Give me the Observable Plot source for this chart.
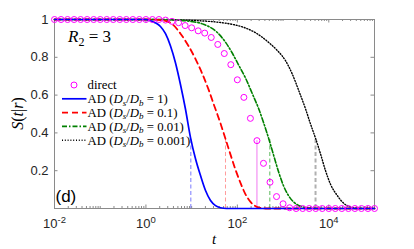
<!DOCTYPE html>
<html><head><meta charset="utf-8">
<script src="https://cdn.jsdelivr.net/npm/d3@7"></script>
<script src="https://cdn.jsdelivr.net/npm/@observablehq/plot@0.6"></script>
<style>html,body{margin:0;padding:0;background:#fff}</style>
</head><body><div id="chart"></div>
<script>
// ---- data ----
const blueT = [0.01, 0.5, 0.979, 1.26, 1.62, 2.08, 2.68, 3.45, 4.44, 5.71, 7.34, 9.45, 12.15, 15.63, 20.11, 25.87, 33.28, 42.8, 57.9, 1e5];
const blueS = [1, 1, 1, 0.993, 0.982, 0.963, 0.925, 0.86, 0.77, 0.655, 0.525, 0.375, 0.263, 0.174, 0.095, 0.042, 0.015, 0.004, 0, 0];

const redT = [0.01, 1, 2.42, 4.01, 5.71, 8.54, 12.78, 17.29, 23.39, 31.64, 42.8, 55.08, 70.87, 91.1, 117.3, 150.8, 194.1, 249.7, 321.2, 413, 1e5];
const redS = [1, 1, 0.995, 0.97, 0.925, 0.86, 0.78, 0.71, 0.63, 0.54, 0.45, 0.368, 0.285, 0.205, 0.135, 0.075, 0.035, 0.012, 0.003, 0, 0];

const greenT = [0.01, 2.08, 4.44, 9.45, 18.18, 35.0, 55.08, 78.4, 106.0, 150.8, 214.6, 290.4, 373.6, 488, 628, 807, 1023, 1316, 1693, 2178, 2946, 4409, 6596, 1e5];
const greenS = [1, 1, 0.997, 0.99, 0.975, 0.935, 0.88, 0.82, 0.76, 0.69, 0.605, 0.53, 0.455, 0.368, 0.278, 0.19, 0.12, 0.068, 0.035, 0.016, 0.006, 0.001, 0, 0];

const blackT = [0.01, 1.26, 4.44, 15.63, 36.3, 82.4, 150.8, 249.7, 355.1, 531.5, 756, 1131, 1586, 2211, 3100, 3987, 5127, 6596, 8487, 10917, 15300, 21330, 29890, 44730, 1e5];
const blackS = [1, 1, 0.998, 0.993, 0.986, 0.973, 0.955, 0.93, 0.905, 0.87, 0.835, 0.782, 0.712, 0.623, 0.527, 0.447, 0.372, 0.289, 0.2, 0.128, 0.069, 0.027, 0.008, 0, 0];

const directT = [0.01, 0.01389, 0.01931, 0.02683, 0.03728, 0.05179, 0.07197, 0.1, 0.1389, 0.1931,
  0.2683, 0.3728, 0.5179, 0.7197, 1, 1.389, 1.931, 2.683, 3.728, 5.179,
  7.197, 10, 13.89, 19.31, 26.83, 37.28, 51.79, 71.97, 100, 138.9,
  193.1, 268.3, 372.8, 517.9, 719.7, 1000, 1389, 1931, 2683, 3728,
  5179, 7197, 10000, 13895, 19307, 26827, 37276, 51795, 71969, 100000];
const directS = [1, 1, 1, 1, 1, 1, 1, 1, 1, 1,
  1, 1, 1, 1, 1, 1, 1, 0.997, 0.99, 0.983,
  0.968, 0.956, 0.94, 0.928, 0.905, 0.868, 0.82, 0.761, 0.681, 0.588,
  0.477, 0.359, 0.239, 0.139, 0.063, 0.025, 0.004, 0, 0, 0,
  0, 0, 0, 0, 0, 0, 0, 0, 0, 0];

// 1/e crossing markers (dashed verticals) and the direct-simulation stem
const crossT = [9.6, 55, 513, 5130];
const crossS = [0.368, 0.368, 0.368, 0.368];
const crossColor = ["#7a7aff", "#ff9c9c", "#5cb85c", "#b0b0b0"];
const crossWidth = [1, 1, 1, 2];
const stemT = [268.3];
const stemS = [0.359];

const yTicks = [0.2, 0.4, 0.6, 0.8, 1];
const xLabelTicks = [1e-2, 1, 1e2, 1e4];
const xDecades = [1e-2, 1e-1, 1, 1e1, 1e2, 1e3, 1e4, 1e5];

const legendLabels = ["direct", "1", "0.1", "0.01", "0.001"];

// ---- layout ----
const W = 414, H = 249, mL = 54, mR = 40, mT = 19, mB = 41;
const pW = W - mL - mR, pH = H - mT - mB;
const axisColor = "#8a8a8a";

const xMinor = [];
xDecades.slice(0, -1).forEach(d => { for (let m = 2; m <= 9; m++) xMinor.push(d * m); });
const xMinorAll = xMinor.concat(xDecades.filter(d => !xLabelTicks.includes(d) && d !== 1e5));

const rows = (T, S) => T.map((t, i) => ({t, s: S[i]}));
const crossRows = crossT.map((t, i) => ({t, s: crossS[i], c: crossColor[i], w: crossWidth[i]}));

const blackDash = "1,1.8";

const plot = Plot.plot({
  width: W, height: H,
  marginLeft: mL, marginRight: mR, marginTop: mT, marginBottom: mB,
  x: {type: "log", domain: [1e-2, 1e5]},
  y: {domain: [0, 1]},
  style: {fontFamily: "'Liberation Sans', Arial, sans-serif", background: "#fff", overflow: "visible"},
  marks: [
    // ticks inward
    Plot.tickY(yTicks, {y: d => d, stroke: axisColor, insetRight: pW - 3.5}),
    Plot.tickY(yTicks, {y: d => d, stroke: axisColor, insetLeft: pW - 3.5}),
    Plot.tickX(xLabelTicks, {x: d => d, stroke: axisColor, insetTop: pH - 3.5}),
    Plot.tickX(xLabelTicks, {x: d => d, stroke: axisColor, insetBottom: pH - 3.5}),
    Plot.tickX(xMinorAll, {x: d => d, stroke: axisColor, insetTop: pH - 2}),
    Plot.tickX(xMinorAll, {x: d => d, stroke: axisColor, insetBottom: pH - 2}),
    Plot.frame({stroke: axisColor, strokeWidth: 1}),
    Plot.axisY({ticks: yTicks, tickSize: 0, tickPadding: 6, tickFormat: d => String(d), fontSize: 13, fill: "#262626", label: null}),
    Plot.axisX({ticks: xLabelTicks, tickSize: 0, tickPadding: 10, tickFormat: d => "10^" + Math.round(Math.log10(d)), fontSize: 13, fill: "#262626", label: null}),
    // dashed verticals at 1/e
    Plot.ruleX(crossRows, {x: "t", y1: 0, y2: "s", stroke: "c", strokeWidth: "w", strokeDasharray: "4,2.5"}),
    Plot.ruleX(rows(stemT, stemS), {x: "t", y1: 0, y2: "s", stroke: "#f07af0", strokeWidth: 1}),
    // curves
    Plot.line(rows(blackT, blackS), {x: "t", y: "s", stroke: "#000", strokeWidth: 1.4, strokeDasharray: blackDash, curve: "monotone-x"}),
    Plot.line(rows(greenT, greenS), {x: "t", y: "s", stroke: "#008000", strokeWidth: 1.6, strokeDasharray: "5,2,1.5,2", curve: "monotone-x"}),
    Plot.line(rows(redT, redS), {x: "t", y: "s", stroke: "#ff0000", strokeWidth: 1.8, strokeDasharray: "6,4", curve: "monotone-x"}),
    Plot.line(rows(blueT, blueS), {x: "t", y: "s", stroke: "#0000ff", strokeWidth: 1.7, curve: "monotone-x"}),
    Plot.dot(rows(directT, directS), {x: "t", y: "s", r: 3, stroke: "#ff00ff", strokeWidth: 1, fill: "none"})
  ]
});

const svg = d3.select(plot);

// superscript exponents on x tick labels
svg.selectAll('g[aria-label="x-axis tick label"] text').each(function() {
  const s = this.textContent;
  const e = s.split("^")[1];
  const t = d3.select(this);
  t.text("10");
  t.append("tspan").attr("dy", "-0.45em").attr("font-size", "9.5px").text(e);
});

const serif = "'Liberation Serif', 'Times New Roman', serif";

// axis labels
svg.append("text").attr("x", mL + pW / 2).attr("y", 244).attr("text-anchor", "middle")
  .attr("font-family", serif).attr("font-style", "italic").attr("font-size", 15).attr("fill", "#000").text("t");
const yl = svg.append("text").attr("transform", `translate(23,${mT + pH / 2}) rotate(-90)`)
  .attr("text-anchor", "middle").attr("font-family", serif).attr("font-size", 16).attr("fill", "#000");
yl.append("tspan").attr("font-style", "italic").text("S");
yl.append("tspan").text("(");
yl.append("tspan").attr("font-style", "italic").text("t");
yl.append("tspan").text("|");
yl.append("tspan").attr("font-style", "italic").text("r");
yl.append("tspan").text(")");

// R2 = 3
const rt = svg.append("text").attr("x", 68).attr("y", 42).attr("text-anchor", "start")
  .attr("font-family", serif).attr("font-size", 17).attr("fill", "#000");
rt.append("tspan").attr("font-style", "italic").text("R");
rt.append("tspan").attr("font-size", "12px").attr("dy", 4).text("2");
rt.append("tspan").attr("dy", -4).text(" = 3");

// (d)
svg.append("text").attr("x", 55.5).attr("y", 202).attr("text-anchor", "start")
  .attr("font-family", "'Liberation Sans', Arial, sans-serif")
  .attr("font-size", 17).attr("fill", "#000").text("(d)");

// legend
const lg = svg.append("g").attr("text-anchor", "start");
const ly0 = 85, ldy = 13.8, lx1 = 62, lx2 = 86.5, ltx = 87.5;
const lstyles = [
  null,
  {stroke: "#0000ff", dash: null, w: 1.7},
  {stroke: "#ff0000", dash: "6,4", w: 1.8},
  {stroke: "#008000", dash: "5,2,1.5,2", w: 1.6},
  {stroke: "#000", dash: blackDash, w: 1.4}
];
legendLabels.forEach((lab, i) => {
  const y = ly0 + i * ldy;
  if (i === 0) {
    lg.append("circle").attr("cx", 74).attr("cy", y).attr("r", 3).attr("fill", "none").attr("stroke", "#ff00ff");
  } else {
    const st = lstyles[i];
    lg.append("line").attr("x1", lx1).attr("x2", lx2).attr("y1", y).attr("y2", y)
      .attr("stroke", st.stroke).attr("stroke-width", st.w).attr("stroke-dasharray", st.dash);
  }
  const tx = lg.append("text").attr("x", ltx).attr("y", y + 4.3).attr("text-anchor", "start")
    .attr("font-family", serif).attr("font-size", 12.8).attr("fill", "#000");
  if (i === 0) { tx.text(lab); return; }
  tx.append("tspan").text("AD (");
  tx.append("tspan").attr("font-style", "italic").text("D");
  tx.append("tspan").attr("font-style", "italic").attr("font-size", "9px").attr("dy", 2.5).text("s");
  tx.append("tspan").attr("dy", -2.5).text("/");
  tx.append("tspan").attr("font-style", "italic").text("D");
  tx.append("tspan").attr("font-style", "italic").attr("font-size", "9px").attr("dy", 2.5).text("b");
  tx.append("tspan").attr("dy", -2.5).text(" = " + lab + ")");
});

document.getElementById("chart").appendChild(plot);
</script>
</body></html>
